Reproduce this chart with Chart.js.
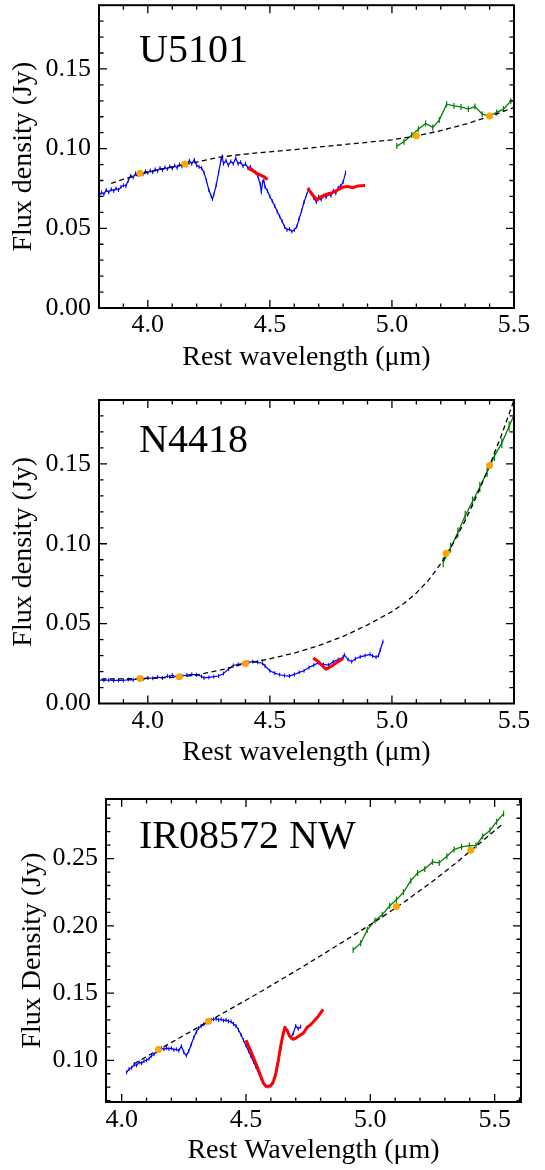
<!DOCTYPE html>
<html><head><meta charset="utf-8">
<script src="https://cdn.jsdelivr.net/npm/chart.js@4"></script>
<style>
html,body{margin:0;padding:0;background:#fff;width:545px;height:1170px;overflow:hidden;position:relative}
canvas{position:absolute;left:0}
</style>
</head><body>
<canvas id="c1" width="545" height="385" style="top:0px"></canvas>
<canvas id="c2" width="545" height="390" style="top:385px"></canvas>
<canvas id="c3" width="545" height="395" style="top:775px"></canvas>
<script>
// ---------- tick labels ----------
const X_TICKS = [4.0, 4.5, 5.0, 5.5];
const Y_TICKS_LOW = [0.00, 0.05, 0.10, 0.15];
const Y_TICKS_IR = [0.10, 0.15, 0.20, 0.25];

// ---------- U5101 ----------
const U_BLUE_WL = [3.80,3.81,3.82,3.83,3.84,3.85,3.86,3.87,3.88,3.89,
 3.90,3.91,3.92,3.93,3.94,3.95,3.96,3.97,3.98,3.99,
 4.00,4.01,4.02,4.03,4.04,4.05,4.06,4.07,4.08,4.09,
 4.10,4.11,4.12,4.13,4.14,4.15,4.16,4.17,4.18,4.19,
 4.20,4.21,4.22,4.23,4.24,4.25,4.26,4.265,4.27,4.28,
 4.29,4.30,4.305,4.31,4.32,4.33,4.34,4.35,4.36,4.37,
 4.38,4.39,4.40,4.41,4.42,4.43,4.44,4.45,4.46,4.465,
 4.47,4.475,4.48,4.49,4.50,4.51,4.52,4.53,4.54,4.55,
 4.56,4.57,4.58,4.59,4.60,4.61,4.62,4.63,4.64,4.65,
 4.66,4.67,4.68,4.69,4.70,4.71,4.72,4.73,4.74,4.75,
 4.76,4.77,4.78,4.79,4.80,4.81];
const U_BLUE_FLUX = [0.0705,0.0725,0.0715,0.0740,0.0725,0.0745,0.0735,0.0750,0.0740,0.0760,
 0.0770,0.0765,0.0800,0.0830,0.0820,0.0845,0.0835,0.0850,0.0840,0.0858,
 0.0848,0.0862,0.0852,0.0870,0.0860,0.0878,0.0866,0.0882,0.0872,0.0888,
 0.0876,0.0894,0.0880,0.0900,0.0888,0.0905,0.0895,0.0925,0.0905,0.0930,
 0.0895,0.0885,0.0878,0.0850,0.0800,0.0740,0.0700,0.0685,0.0710,0.0770,
 0.0850,0.0930,0.0950,0.0905,0.0925,0.0895,0.0920,0.0905,0.0940,0.0905,
 0.0915,0.0890,0.0905,0.0880,0.0885,0.0865,0.0850,0.0830,0.0780,0.0730,
 0.0790,0.0800,0.0760,0.0735,0.0700,0.0670,0.0640,0.0605,0.0575,0.0545,
 0.0510,0.0490,0.0495,0.0480,0.0490,0.0510,0.0560,0.0610,0.0665,0.0710,
 0.0745,0.0720,0.0690,0.0665,0.0700,0.0680,0.0705,0.0695,0.0715,0.0705,
 0.0735,0.0720,0.0755,0.0765,0.0790,0.0850];
const U_RED1_WL = [4.41,4.43,4.45,4.47,4.48,4.49];
const U_RED1_FLUX = [0.0878,0.0862,0.0843,0.0828,0.0820,0.0805];
const U_RED2_WL = [4.655,4.67,4.685,4.695,4.71,4.73,4.75,4.77,4.79,4.80,4.82,4.84,4.86,4.89];
const U_RED2_FLUX = [0.0752,0.0720,0.0690,0.0680,0.0698,0.0712,0.0720,0.0735,0.0750,0.0760,0.0762,0.0755,0.0766,0.0768];
const U_GREEN_WL = [5.02,5.049,5.081,5.108,5.138,5.167,5.194,5.224,5.254,5.283,5.313,5.34,5.37,5.399,5.429,5.457,5.487,5.515];
const U_GREEN_FLUX = [0.1016,0.1043,0.1085,0.1122,0.1158,0.1133,0.1179,0.1279,0.1268,0.1262,0.1248,0.1264,0.1216,0.1204,0.1227,0.1248,0.1298,0.1305];
const U_CONT_WL = [3.85,3.9,4.0,4.1,4.2,4.3,4.4,4.5,4.6,4.7,4.8,4.9,5.0,5.1,5.2,5.3,5.4,5.5];
const U_CONT_FLUX = [0.0782,0.0808,0.0852,0.0886,0.0916,0.0948,0.0966,0.0980,0.0994,0.1010,0.1025,0.1040,0.1055,0.1080,0.1113,0.1153,0.1202,0.1258];
const U_ANCHOR_WL = [3.968,4.152,5.10,5.40];
const U_ANCHOR_FLUX = [0.0845,0.0903,0.1081,0.1204];

// ---------- N4418 ----------
const N_BLUE_WL = [3.80,3.82,3.84,3.86,3.88,3.90,3.92,3.94,3.96,3.98,
 4.00,4.02,4.04,4.06,4.08,4.09,4.10,4.12,4.14,4.16,
 4.18,4.20,4.22,4.23,4.25,4.27,4.29,4.31,4.33,4.35,
 4.37,4.39,4.41,4.43,4.45,4.47,4.48,4.50,4.52,4.54,
 4.56,4.58,4.60,4.62,4.64,4.66,4.68,4.70,4.72,4.74,
 4.76,4.78,4.80,4.805,4.82,4.835,4.85,4.87,4.89,4.91,
 4.92,4.935,4.945,4.952,4.963];
const N_BLUE_FLUX = [0.0148,0.0145,0.0147,0.0143,0.0146,0.0144,0.0150,0.0148,0.0156,0.0153,
 0.0160,0.0158,0.0165,0.0160,0.0172,0.0168,0.0178,0.0165,0.0172,0.0178,
 0.0182,0.0180,0.0170,0.0160,0.0163,0.0168,0.0172,0.0188,0.0215,0.0238,
 0.0245,0.0250,0.0258,0.0262,0.0258,0.0252,0.0235,0.0205,0.0190,0.0180,
 0.0175,0.0172,0.0182,0.0195,0.0205,0.0225,0.0240,0.0255,0.0245,0.0240,
 0.0262,0.0275,0.0290,0.0305,0.0275,0.0262,0.0280,0.0292,0.0300,0.0308,
 0.0298,0.0290,0.0300,0.0335,0.0388];
const N_RED_WL = [4.678,4.70,4.715,4.73,4.75,4.77,4.785,4.80];
const N_RED_FLUX = [0.0285,0.0260,0.0235,0.0215,0.0232,0.0252,0.0268,0.0282];
const N_GREEN_WL = [5.21,5.24,5.27,5.30,5.33,5.36,5.39,5.42,5.45,5.48,5.51];
const N_GREEN_FLUX = [0.0885,0.0975,0.1070,0.1175,0.1265,0.1355,0.1450,0.1550,0.1630,0.1735,0.1840];
const N_CONT_WL = [3.81,3.9,4.0,4.1,4.2,4.3,4.4,4.5,4.6,4.7,4.8,4.9,5.0,5.05,5.1,5.15,5.2,5.25,5.3,5.35,5.4,5.45,5.5];
const N_CONT_FLUX = [0.0153,0.0154,0.0157,0.0163,0.0178,0.0210,0.0250,0.0280,0.0316,0.0362,0.0420,0.0492,0.0575,0.0628,0.0692,0.0772,0.0875,0.1000,0.1145,0.1310,0.1490,0.1685,0.1900];
const N_ANCHOR_WL = [3.968,4.129,4.40,5.222,5.40];
const N_ANCHOR_FLUX = [0.0157,0.0168,0.0251,0.0941,0.1490];

// ---------- IR08572 NW ----------
const I_BLUE_WL = [4.02,4.03,4.04,4.05,4.06,4.07,4.08,4.09,4.10,4.11,
 4.12,4.13,4.14,4.15,4.16,4.17,4.18,4.19,4.20,4.21,
 4.22,4.23,4.24,4.25,4.26,4.27,4.28,4.29,4.30,4.31,
 4.32,4.33,4.34,4.35,4.36,4.37,4.38,4.39,4.40,4.41,
 4.42,4.43,4.44,4.45,4.46,4.47,4.48,4.49,4.50,4.51,
 4.52,4.53,4.54,4.55,4.56,4.57,4.58,4.59,4.60,4.61,
 4.62,4.63,4.64,4.65,4.66,4.67,4.68,4.69,4.70,4.71,4.72];
const I_BLUE_FLUX = [0.0910,0.0935,0.0945,0.0968,0.0962,0.0985,0.0978,0.0995,0.1000,0.1012,
 0.1035,0.1045,0.1065,0.1080,0.1090,0.1082,0.1092,0.1085,0.1090,0.1078,
 0.1082,0.1072,0.1105,0.1060,0.1035,0.1070,0.1120,0.1170,0.1210,0.1240,
 0.1255,0.1268,0.1280,0.1292,0.1300,0.1305,0.1310,0.1300,0.1305,0.1295,
 0.1300,0.1290,0.1288,0.1270,0.1255,0.1225,0.1190,0.1150,0.1110,0.1070,
 0.1030,0.0990,0.0950,0.0910,0.0865,0.0830,0.0810,0.0805,0.0812,0.0835,
 0.0890,0.0975,0.1090,0.1190,0.1240,0.1205,0.1170,0.1200,0.1255,0.1235,0.1250];
const I_RED_WL = [4.50,4.52,4.54,4.56,4.57,4.58,4.59,4.60,4.61,4.62,4.63,4.64,4.65,4.656,4.665,4.675,4.69,4.70,4.72,4.73,4.746,4.76,4.773,4.79,4.81];
const I_RED_FLUX = [0.1150,0.1065,0.0975,0.0880,0.0830,0.0808,0.0806,0.0812,0.0840,0.0905,0.1000,0.1110,0.1200,0.1240,0.1225,0.1180,0.1157,0.1165,0.1190,0.1200,0.1245,0.1265,0.1290,0.1325,0.1378];
const I_GREEN_WL = [4.931,4.961,4.988,5.019,5.048,5.078,5.105,5.133,5.163,5.19,5.219,5.25,5.277,5.308,5.337,5.367,5.398,5.425,5.452,5.481,5.508,5.536];
const I_GREEN_FLUX = [0.1821,0.1871,0.1970,0.2040,0.2082,0.2149,0.2194,0.2249,0.2336,0.2393,0.2423,0.2475,0.2468,0.2517,0.2567,0.2587,0.2597,0.2597,0.2666,0.2709,0.2774,0.2834];
const I_CONT_WL = [4.05,4.15,4.25,4.35,4.45,4.55,4.65,4.75,4.85,4.95,5.05,5.15,5.25,5.35,5.45,5.535];
const I_CONT_FLUX = [0.0975,0.1080,0.1185,0.1290,0.1395,0.1500,0.1610,0.1720,0.1835,0.1950,0.2068,0.2195,0.2330,0.2475,0.2630,0.2761];
const I_ANCHOR_WL = [4.148,4.349,5.105,5.404];
const I_ANCHOR_FLUX = [0.1080,0.1290,0.2144,0.2562];

// ---------- drawing ----------
const SERIF = '"Liberation Serif", "Times New Roman", serif';
function pts(xs, ys) { return xs.map((x, i) => ({x: x, y: ys[i]})); }

const framePlugin = {
  id: 'frame',
  afterDatasetsDraw(chart, args, o) {
    const ctx = chart.ctx, a = chart.chartArea, xs = chart.scales.x, ys = chart.scales.y;
    ctx.save();
    ctx.strokeStyle = '#000';
    ctx.lineWidth = 1.3;
    const tickX = (v, len) => {
      const p = xs.getPixelForValue(v);
      if (p < a.left + 1 || p > a.right - 1) return;
      ctx.beginPath();
      ctx.moveTo(p, a.bottom); ctx.lineTo(p, a.bottom - len);
      ctx.moveTo(p, a.top); ctx.lineTo(p, a.top + len);
      ctx.stroke();
    };
    const tickY = (v, len) => {
      const p = ys.getPixelForValue(v);
      if (p < a.top + 1 || p > a.bottom - 1) return;
      ctx.beginPath();
      ctx.moveTo(a.left, p); ctx.lineTo(a.left + len, p);
      ctx.moveTo(a.right, p); ctx.lineTo(a.right - len, p);
      ctx.stroke();
    };
    for (let k = Math.ceil(xs.min * 10); k <= Math.floor(xs.max * 10); k++) {
      tickX(k / 10, (k % 5 === 0) ? 8 : 4.5);
    }
    for (let k = Math.ceil(ys.min * 100); k <= Math.floor(ys.max * 100); k++) {
      tickY(k / 100, (k % 5 === 0) ? 8 : 4.5);
    }
    ctx.lineWidth = 2;
    ctx.strokeRect(a.left, a.top, a.right - a.left, a.bottom - a.top);
    ctx.fillStyle = '#000';
    ctx.font = '40px ' + SERIF;
    ctx.textBaseline = 'alphabetic';
    ctx.textAlign = 'left';
    ctx.fillText(o.label, o.tx, o.ty);
    ctx.restore();
  }
};

function makePanel(id, o) {
  const datasets = [
    {data: pts(o.anchorWl, o.anchorFlux), showLine: false, pointRadius: 3.5, pointStyle: 'circle',
     pointBackgroundColor: '#ffa500', pointBorderColor: '#ffa500', pointBorderWidth: 0, borderColor: '#ffa500'},
    {data: pts(o.contWl, o.contFlux), borderColor: '#000', borderWidth: 1.3, borderDash: [5, 3.5],
     pointRadius: 0, fill: false, tension: 0}
  ];
  o.reds.forEach(r => datasets.push({data: pts(r[0], r[1]), borderColor: '#ff0000', borderWidth: 3,
     pointRadius: 0, fill: false, tension: 0}));
  datasets.push({data: pts(o.greenWl, o.greenFlux), borderColor: '#008000', borderWidth: 1.3,
     pointStyle: 'line', pointRotation: 90, pointRadius: o.greenBar, pointBorderColor: '#008000',
     pointBorderWidth: 1.2, fill: false, tension: 0});
  datasets.push({data: pts(o.blueWl, o.blueFlux), borderColor: '#0000ff', borderWidth: 1.2,
     pointStyle: 'line', pointRotation: 90, pointRadius: 2, pointBorderColor: '#0000ff',
     pointBorderWidth: 1, fill: false, tension: 0});

  new Chart(document.getElementById(id), {
    type: 'line',
    data: {datasets: datasets},
    plugins: [framePlugin],
    options: {
      responsive: false, animation: false, devicePixelRatio: 1, events: [],
      layout: {padding: {top: o.padTop, right: o.padRight, left: 0, bottom: 0}},
      plugins: {legend: {display: false}, tooltip: {enabled: false},
                frame: {label: o.label, tx: 139, ty: o.labelY}},
      scales: {
        x: {
          type: 'linear', min: o.xMin, max: o.xMax,
          grid: {display: false, drawTicks: false}, border: {display: false},
          afterBuildTicks: s => { s.ticks = X_TICKS.map(v => ({value: v})); },
          afterFit: s => { s.height = o.xHeight; s.paddingLeft = 0; s.paddingRight = 0; s.paddingTop = 0; s.paddingBottom = 0; },
          ticks: {autoSkip: false, maxRotation: 0, minRotation: 0, padding: o.xTickPad, color: '#000',
                  font: {family: SERIF, size: 26}, callback: v => Number(v).toFixed(1)},
          title: {display: true, text: o.xTitle, color: '#000', font: {family: SERIF, size: 28},
                  padding: {top: 0, bottom: o.xTitlePad}}
        },
        y: {
          type: 'linear', min: o.yMin, max: o.yMax,
          grid: {display: false, drawTicks: false}, border: {display: false},
          afterBuildTicks: s => { s.ticks = o.yTicks.map(v => ({value: v})); },
          afterFit: s => { s.width = o.yWidth; s.paddingLeft = 0; s.paddingRight = 0; s.paddingTop = 0; s.paddingBottom = 0; },
          ticks: {autoSkip: false, padding: 8, color: '#000',
                  font: {family: SERIF, size: 26}, callback: v => Number(v).toFixed(2)},
          title: {display: true, text: o.yTitle, color: '#000', font: {family: SERIF, size: 28},
                  padding: {top: o.yTitlePad, bottom: 0}}
        }
      }
    }
  });
}

makePanel('c1', {
  label: 'U5101', labelY: 62,
  xMin: 3.8, xMax: 5.5, yMin: 0, yMax: 0.19, yTicks: Y_TICKS_LOW,
  padTop: 5, padRight: 31, xHeight: 77, yWidth: 99, xTickPad: 1.5, xTitlePad: 11, yTitlePad: 7,
  xTitle: 'Rest wavelength (\u03bcm)', yTitle: 'Flux density (Jy)',
  blueWl: U_BLUE_WL, blueFlux: U_BLUE_FLUX,
  reds: [[U_RED1_WL, U_RED1_FLUX], [U_RED2_WL, U_RED2_FLUX]],
  greenWl: U_GREEN_WL, greenFlux: U_GREEN_FLUX, greenBar: 3,
  contWl: U_CONT_WL, contFlux: U_CONT_FLUX,
  anchorWl: U_ANCHOR_WL, anchorFlux: U_ANCHOR_FLUX
});

makePanel('c2', {
  label: 'N4418', labelY: 67,
  xMin: 3.8, xMax: 5.5, yMin: 0, yMax: 0.19, yTicks: Y_TICKS_LOW,
  padTop: 15, padRight: 31, xHeight: 71.5, yWidth: 99, xTickPad: 2, xTitlePad: 6, yTitlePad: 7,
  xTitle: 'Rest wavelength (\u03bcm)', yTitle: 'Flux density (Jy)',
  blueWl: N_BLUE_WL, blueFlux: N_BLUE_FLUX,
  reds: [[N_RED_WL, N_RED_FLUX]],
  greenWl: N_GREEN_WL, greenFlux: N_GREEN_FLUX, greenBar: 5,
  contWl: N_CONT_WL, contFlux: N_CONT_FLUX,
  anchorWl: N_ANCHOR_WL, anchorFlux: N_ANCHOR_FLUX
});

makePanel('c3', {
  label: 'IR08572 NW', labelY: 73,
  xMin: 3.937, xMax: 5.606, yMin: 0.069, yMax: 0.2943, yTicks: Y_TICKS_IR,
  padTop: 24, padRight: 24, xHeight: 68, yWidth: 106, xTickPad: 3, xTitlePad: 3, yTitlePad: 16,
  xTitle: 'Rest Wavelength (\u03bcm)', yTitle: 'Flux Density (Jy)',
  blueWl: I_BLUE_WL, blueFlux: I_BLUE_FLUX,
  reds: [[I_RED_WL, I_RED_FLUX]],
  greenWl: I_GREEN_WL, greenFlux: I_GREEN_FLUX, greenBar: 3,
  contWl: I_CONT_WL, contFlux: I_CONT_FLUX,
  anchorWl: I_ANCHOR_WL, anchorFlux: I_ANCHOR_FLUX
});
</script>
</body></html>
